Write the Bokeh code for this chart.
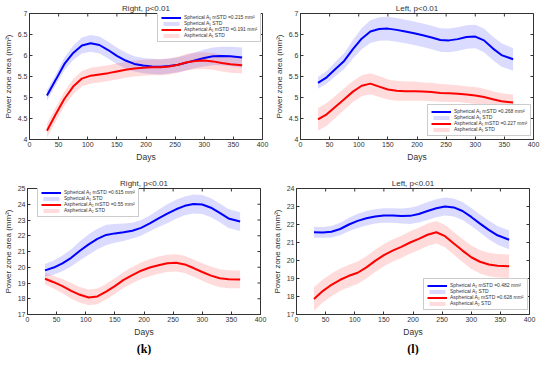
import math
from bokeh.plotting import figure
from bokeh.layouts import column, row
from bokeh.models import (Legend, LegendItem, FixedTicker,
                          CustomJSTickFormatter, Title, Range1d)
from bokeh.embed import file_html
from bokeh.resources import INLINE

# ---------------- data ----------------
days = [30, 45, 60, 75, 90, 105, 120, 135, 150, 165, 180, 195, 210, 225, 240,
        255, 270, 285, 300, 315, 330, 345, 365]

# (top-left) Right, A1
r1_sph = [5.05, 5.42, 5.80, 6.06, 6.24, 6.29, 6.25, 6.13, 5.99, 5.88, 5.80, 5.76,
          5.74, 5.73, 5.75, 5.78, 5.83, 5.89, 5.94, 5.98, 5.99, 5.98, 5.95]
r1_sph_sd = [0.12, 0.13, 0.15, 0.17, 0.19, 0.20, 0.20, 0.20, 0.20, 0.19, 0.18, 0.18,
             0.18, 0.18, 0.18, 0.18, 0.18, 0.19, 0.20, 0.21, 0.22, 0.23, 0.24]
r1_asp = [4.21, 4.60, 4.97, 5.26, 5.45, 5.52, 5.55, 5.58, 5.62, 5.66, 5.69, 5.71,
          5.72, 5.72, 5.74, 5.78, 5.84, 5.87, 5.88, 5.86, 5.82, 5.79, 5.77]
r1_asp_sd = [0.17, 0.17, 0.17, 0.18, 0.18, 0.19, 0.19, 0.19, 0.19, 0.19, 0.19, 0.19,
             0.19, 0.19, 0.19, 0.19, 0.20, 0.20, 0.20, 0.20, 0.20, 0.20, 0.20]

# (top-right) Left, A1
l1_sph = [5.35, 5.48, 5.68, 5.87, 6.15, 6.40, 6.57, 6.63, 6.64, 6.61, 6.57, 6.53,
          6.48, 6.43, 6.37, 6.36, 6.39, 6.44, 6.45, 6.36, 6.17, 6.01, 5.91]
l1_sph_sd = [0.14, 0.15, 0.17, 0.19, 0.22, 0.25, 0.27, 0.28, 0.28, 0.28, 0.28, 0.28,
             0.28, 0.28, 0.28, 0.28, 0.28, 0.28, 0.28, 0.28, 0.28, 0.28, 0.27]
l1_asp = [4.48, 4.60, 4.78, 4.96, 5.14, 5.28, 5.33, 5.26, 5.19, 5.16, 5.15, 5.15,
          5.14, 5.13, 5.11, 5.10, 5.09, 5.07, 5.05, 5.01, 4.96, 4.91, 4.88]
l1_asp_sd = [0.27, 0.27, 0.26, 0.26, 0.25, 0.25, 0.25, 0.25, 0.24, 0.24, 0.23, 0.23,
             0.22, 0.22, 0.21, 0.21, 0.20, 0.20, 0.20, 0.20, 0.19, 0.19, 0.19]

# (bottom-left) Right, A2
r2_sph = [19.80, 19.98, 20.25, 20.60, 21.05, 21.45, 21.80, 22.05, 22.15, 22.22, 22.32,
          22.50, 22.78, 23.10, 23.40, 23.68, 23.90, 24.02, 23.98, 23.78, 23.45, 23.10, 22.90]
r2_sph_sd = [0.40, 0.45, 0.50, 0.55, 0.60, 0.65, 0.65, 0.65, 0.60, 0.55, 0.50, 0.50,
             0.50, 0.55, 0.60, 0.60, 0.60, 0.60, 0.60, 0.60, 0.60, 0.60, 0.60]
r2_asp = [19.27, 19.05, 18.80, 18.50, 18.25, 18.08, 18.15, 18.45, 18.80, 19.20, 19.50,
          19.78, 19.98, 20.13, 20.25, 20.28, 20.18, 19.95, 19.70, 19.47, 19.30, 19.24, 19.23]
r2_asp_sd = [0.35, 0.40, 0.45, 0.50, 0.50, 0.50, 0.50, 0.50, 0.50, 0.50, 0.52, 0.52,
             0.55, 0.55, 0.55, 0.55, 0.55, 0.55, 0.55, 0.57, 0.57, 0.57, 0.57]

# (bottom-right) Left, A2
l2_sph = [21.57, 21.56, 21.60, 21.75, 22.00, 22.20, 22.35, 22.45, 22.50, 22.50, 22.47,
          22.48, 22.58, 22.75, 22.90, 23.00, 22.95, 22.75, 22.42, 22.05, 21.70, 21.40, 21.15]
l2_sph_sd = [0.30, 0.30, 0.32, 0.35, 0.38, 0.40, 0.40, 0.40, 0.40, 0.40, 0.42, 0.45,
             0.47, 0.50, 0.50, 0.50, 0.50, 0.50, 0.50, 0.50, 0.52, 0.52, 0.52]
l2_asp = [17.86, 18.30, 18.65, 18.93, 19.15, 19.32, 19.62, 19.98, 20.30, 20.55, 20.76,
          21.00, 21.20, 21.43, 21.57, 21.35, 20.95, 20.55, 20.18, 19.93, 19.78, 19.71, 19.68]
l2_asp_sd = [0.65, 0.64, 0.63, 0.62, 0.62, 0.62, 0.62, 0.62, 0.62, 0.62, 0.62, 0.62,
             0.62, 0.62, 0.62, 0.62, 0.63, 0.64, 0.65, 0.65, 0.65, 0.65, 0.65]

x_ticks = [0, 50, 100, 150, 200, 250, 300, 350, 400]
y_ticks_a1 = [4, 4.5, 5, 5.5, 6, 6.5, 7]
y_ticks_a2_r = [17, 18, 19, 20, 21, 22, 23, 24, 25]
y_ticks_a2_l = [17, 18, 19, 20, 21, 22, 23, 24]

labels_r1 = ["Spherical A\u2081 mSTD =0.215 mm\u00b2", "Spherical A\u2081 STD",
             "Aspherical A\u2081 mSTD =0.191 mm\u00b2", "Aspherical A\u2081 STD"]
labels_l1 = ["Spherical A\u2081 mSTD =0.268 mm\u00b2", "Spherical A\u2081 STD",
             "Aspherical A\u2081 mSTD =0.227 mm\u00b2", "Aspherical A\u2081 STD"]
labels_r2 = ["Spherical A\u2082 mSTD =0.615 mm\u00b2", "Spherical A\u2082 STD",
             "Aspherical A\u2082 mSTD =0.55 mm\u00b2", "Aspherical A\u2082 STD"]
labels_l2 = ["Spherical A\u2082 mSTD =0.482 mm\u00b2", "Spherical A\u2082 STD",
             "Aspherical A\u2082 mSTD =0.628 mm\u00b2", "Aspherical A\u2082 STD"]

# ---------------- styling ----------------
FONT = "Liberation Sans"
TXT = "#333333"
FW, FH = 233, 126


def style_axis(ax, ticks):
    ax.ticker = FixedTicker(ticks=ticks)
    ax.formatter = CustomJSTickFormatter(code="return tick.toString()")
    ax.major_tick_in = 3
    ax.major_tick_out = 0
    ax.minor_tick_line_color = None
    ax.axis_line_color = TXT
    ax.major_tick_line_color = TXT
    ax.major_label_text_color = TXT
    ax.major_label_text_font = FONT
    ax.major_label_text_font_size = "7px"
    ax.major_label_standoff = 2
    ax.axis_label_standoff = 2
    ax.axis_label_text_font = FONT
    ax.axis_label_text_font_style = "normal"
    ax.axis_label_text_color = TXT


def make(title, s_m, s_sd, a_m, a_sd, labels, yr, yticks, leg_xy, sub=None):
    p = figure(frame_width=FW, frame_height=FH, output_backend="svg",
               toolbar_location=None, x_range=Range1d(0, 400),
               y_range=Range1d(*yr), min_border_left=25, min_border_right=9,
               min_border_top=13, min_border_bottom=(24 if sub else 36),
               title=title)
    p.background_fill_color = "white"
    p.border_fill_color = "white"
    p.grid.visible = False
    p.outline_line_color = TXT
    p.title.text_font = FONT
    p.title.text_font_size = "8px"
    p.title.text_font_style = "normal"
    p.title.text_color = TXT
    p.title.align = "center"
    p.title.standoff = 2

    s_hi = [m + s for m, s in zip(s_m, s_sd)]
    s_lo = [m - s for m, s in zip(s_m, s_sd)]
    a_hi = [m + s for m, s in zip(a_m, a_sd)]
    a_lo = [m - s for m, s in zip(a_m, a_sd)]

    rb_s = p.varea(x=days, y1=s_lo, y2=s_hi, fill_color="#0000ff", fill_alpha=0.14)
    rb_a = p.varea(x=days, y1=a_lo, y2=a_hi, fill_color="#ff0000", fill_alpha=0.14)
    rl_s = p.line(days, s_m, line_color="#0000ff", line_width=2)
    rl_a = p.line(days, a_m, line_color="#ff0000", line_width=2)

    # inward ticks on the top and right edges of the box (MATLAB "box on")
    p.scatter(x=x_ticks, y=[yr[1]] * len(x_ticks), marker="dash", size=6,
              angle=math.pi / 2, line_color=TXT, line_width=1)
    p.scatter(x=[400] * len(yticks), y=yticks, marker="dash", size=6,
              line_color=TXT, line_width=1)

    style_axis(p.xaxis[0], x_ticks)
    style_axis(p.yaxis[0], yticks)
    p.xaxis[0].axis_label = "Days"
    p.xaxis[0].axis_label_text_font_size = "8.5px"
    p.yaxis[0].axis_label = "Power zone area (mm\u00b2)"
    p.yaxis[0].axis_label_text_font_size = "8px"

    leg = Legend(items=[LegendItem(label=labels[0], renderers=[rl_s]),
                        LegendItem(label=labels[1], renderers=[rb_s]),
                        LegendItem(label=labels[2], renderers=[rl_a]),
                        LegendItem(label=labels[3], renderers=[rb_a])],
                 location=leg_xy)
    leg.label_text_font = FONT
    leg.label_text_font_size = "5px"
    leg.label_text_color = TXT
    leg.label_height = 5
    leg.glyph_height = 5
    leg.glyph_width = 20
    leg.label_standoff = 3
    leg.spacing = 0
    leg.padding = 3
    leg.margin = 0
    leg.border_line_color = "#9a9a9a"
    leg.border_line_width = 1
    leg.background_fill_color = "white"
    leg.background_fill_alpha = 1
    p.add_layout(leg)

    if sub is not None:
        p.add_layout(Title(text=sub, align="center", text_font="Liberation Serif",
                           text_font_size="12px", text_font_style="bold",
                           text_color="#000000", standoff=0), "below")
    return p


p1 = make("Right, p<0.01", r1_sph, r1_sph_sd, r1_asp, r1_asp_sd, labels_r1,
          (4, 7), y_ticks_a1, (128, 97))
p2 = make("Left, p<0.01", l1_sph, l1_sph_sd, l1_asp, l1_asp_sd, labels_l1,
          (4, 7), y_ticks_a1, (127, 3))
p3 = make("Right, p<0.01", r2_sph, r2_sph_sd, r2_asp, r2_asp_sd, labels_r2,
          (17, 25), y_ticks_a2_r, (10, 97), sub="(k)")
p4 = make("Left, p<0.01", l2_sph, l2_sph_sd, l2_asp, l2_asp_sd, labels_l2,
          (17, 24), y_ticks_a2_l, (127, 4), sub="(l)")

layout = column(row(p1, p2), row(p3, p4))
open("out.html", "w").write(file_html(layout, INLINE))
